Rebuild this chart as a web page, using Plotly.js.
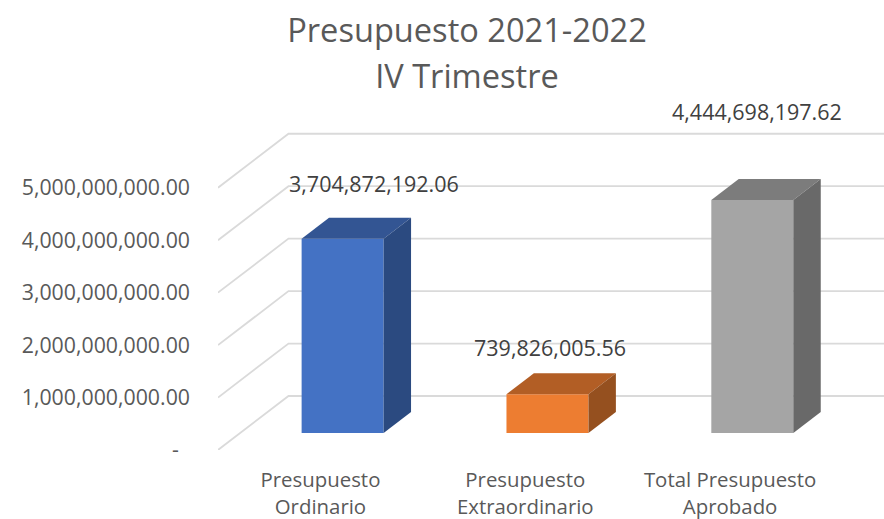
<!DOCTYPE html>
<html>
<head>
<meta charset="utf-8">
<script src="https://cdn.plot.ly/plotly-3.0.1.min.js"></script>
<style>html,body{margin:0;padding:0;background:#fff}#chart{width:884px;height:519px}</style>
</head>
<body>
<div id="chart"></div>
<script>
// ---- data ----
const categoryLines = [["Presupuesto", "Ordinario"], ["Presupuesto", "Extraordinario"], ["Total Presupuesto", "Aprobado"]];
const values = [3704872192.06, 739826005.56, 4444698197.62];
const yTickVals = [0, 1000000000, 2000000000, 3000000000, 4000000000, 5000000000];
const yTickText = ["-\u00a0\u00a0", "1,000,000,000.00", "2,000,000,000.00", "3,000,000,000.00", "4,000,000,000.00", "5,000,000,000.00"];
const titleLines = ["Presupuesto 2021-2022", "IV Trimestre"];

// ---- styles ----
const frontColors = ["#4472C4", "#ED7D31", "#A5A5A5"];
const topColors = ["#335593", "#B25E25", "#7C7C7C"];
const sideColors = ["#2B4A80", "#95501F", "#696969"];
const FONT = '"Open Sans", sans-serif';
const TXT = "#595959";
const sized = (lines, px) => lines.map(t => `<span style="font-size:${px}px">${t}</span>`).join("<br>");

// ---- scales: oblique projection expressed in axis units ----
const W = 884, H = 519;
const plot = {l: 218, r: 884, t: 100, b: 450};
const pxPerCat = 204.85, pxPerValue = 52.45 / 1e9;
const xRange = [-0.5, -0.5 + (plot.r - plot.l) / pxPerCat];
const yRange = [0, (plot.b - plot.t) / pxPerValue];
const wallDx = 70.5 / pxPerCat, wallDy = 54 / pxPerValue;   // floor front edge -> back wall
const barDepthStart = 17 / 54, barDepth = 21 / 54;          // bar position along the floor depth
const barWidth = 82 / pxPerCat;

// gridlines: diagonal along side wall, then horizontal along back wall
const gx = [], gy = [];
yTickVals.forEach(v => {
  gx.push(xRange[0], xRange[0] + wallDx, xRange[1], null);
  gy.push(v, v + wallDy, v + wallDy, null);
});

const traces = [{
  type: "scatter", mode: "lines", x: gx, y: gy, xaxis: "x", yaxis: "y",
  line: {color: "#DADADA", width: 1.8}, hoverinfo: "skip", showlegend: false, connectgaps: false
}];

const base = barDepthStart * wallDy;
const shiftX = barDepthStart * wallDx;
const centers = values.map((_, i) => i + shiftX);
const ddx = barDepth * wallDx, ddy = barDepth * wallDy;

traces.push({
  type: "bar", x: centers, y: values, base: values.map(() => base), width: barWidth,
  xaxis: "x2", yaxis: "y2", marker: {color: frontColors, line: {width: 0}}, showlegend: false, hoverinfo: "skip"
});

values.forEach((v, i) => {
  const xl = centers[i] - barWidth / 2, xr = centers[i] + barWidth / 2;
  const yb = base, yt = base + v;
  traces.push({
    type: "scatter", mode: "lines", fill: "toself", fillcolor: topColors[i], line: {width: 0},
    x: [xl, xr, xr + ddx, xl + ddx, xl], y: [yt, yt, yt + ddy, yt + ddy, yt],
    xaxis: "x2", yaxis: "y2", showlegend: false, hoverinfo: "skip"
  });
  traces.push({
    type: "scatter", mode: "lines", fill: "toself", fillcolor: sideColors[i], line: {width: 0},
    x: [xr, xr + ddx, xr + ddx, xr, xr], y: [yb, yb + ddy, yt + ddy, yt, yb],
    xaxis: "x2", yaxis: "y2", showlegend: false, hoverinfo: "skip"
  });
});

// data labels (manually placed in the original), offset in px from each bar's top
const labelShiftX = [31, 2.5, 5], labelShiftY = [55, 47, 88];
const fmt = v => v.toLocaleString("en-US", {minimumFractionDigits: 2, maximumFractionDigits: 2});
const annotations = values.map((v, i) => ({
  x: centers[i], y: base + v, xref: "x", yref: "y", text: fmt(v), showarrow: false,
  xanchor: "center", yanchor: "middle", xshift: labelShiftX[i], yshift: labelShiftY[i],
  font: {family: FONT, size: 21.5, color: "#404040"}
}));

const layout = {
  width: W, height: H, paper_bgcolor: "#fff", plot_bgcolor: "rgba(0,0,0,0)", showlegend: false,
  hovermode: false, font: {family: FONT, color: TXT},
  margin: {l: plot.l, r: W - plot.r, t: plot.t, b: H - plot.b, pad: 0},
  title: {text: sized(titleLines, 32.6), font: {family: FONT, size: 35.4, color: TXT}, x: 467 / W, xanchor: "center", y: 1 - 42 / H, yanchor: "middle"},
  xaxis: {range: xRange, tickmode: "array", tickvals: categoryLines.map((_, i) => i), ticktext: categoryLines.map(l => sized(l, 20.4)),
    showgrid: false, zeroline: false, showline: false, ticks: "", ticklabelstandoff: 14, tickangle: 0,
    tickfont: {family: FONT, size: 21.5, color: TXT}},
  yaxis: {range: yRange, tickmode: "array", tickvals: yTickVals, ticktext: yTickText,
    showgrid: false, zeroline: false, showline: false, ticks: "", ticklabelstandoff: 27,
    tickfont: {family: FONT, size: 21.3, color: TXT}},
  xaxis2: {range: xRange, overlaying: "x", visible: false},
  yaxis2: {range: yRange, overlaying: "y", visible: false},
  annotations: annotations
};

Plotly.newPlot("chart", traces, layout, {displayModeBar: false, staticPlot: true});
</script>
</body>
</html>
